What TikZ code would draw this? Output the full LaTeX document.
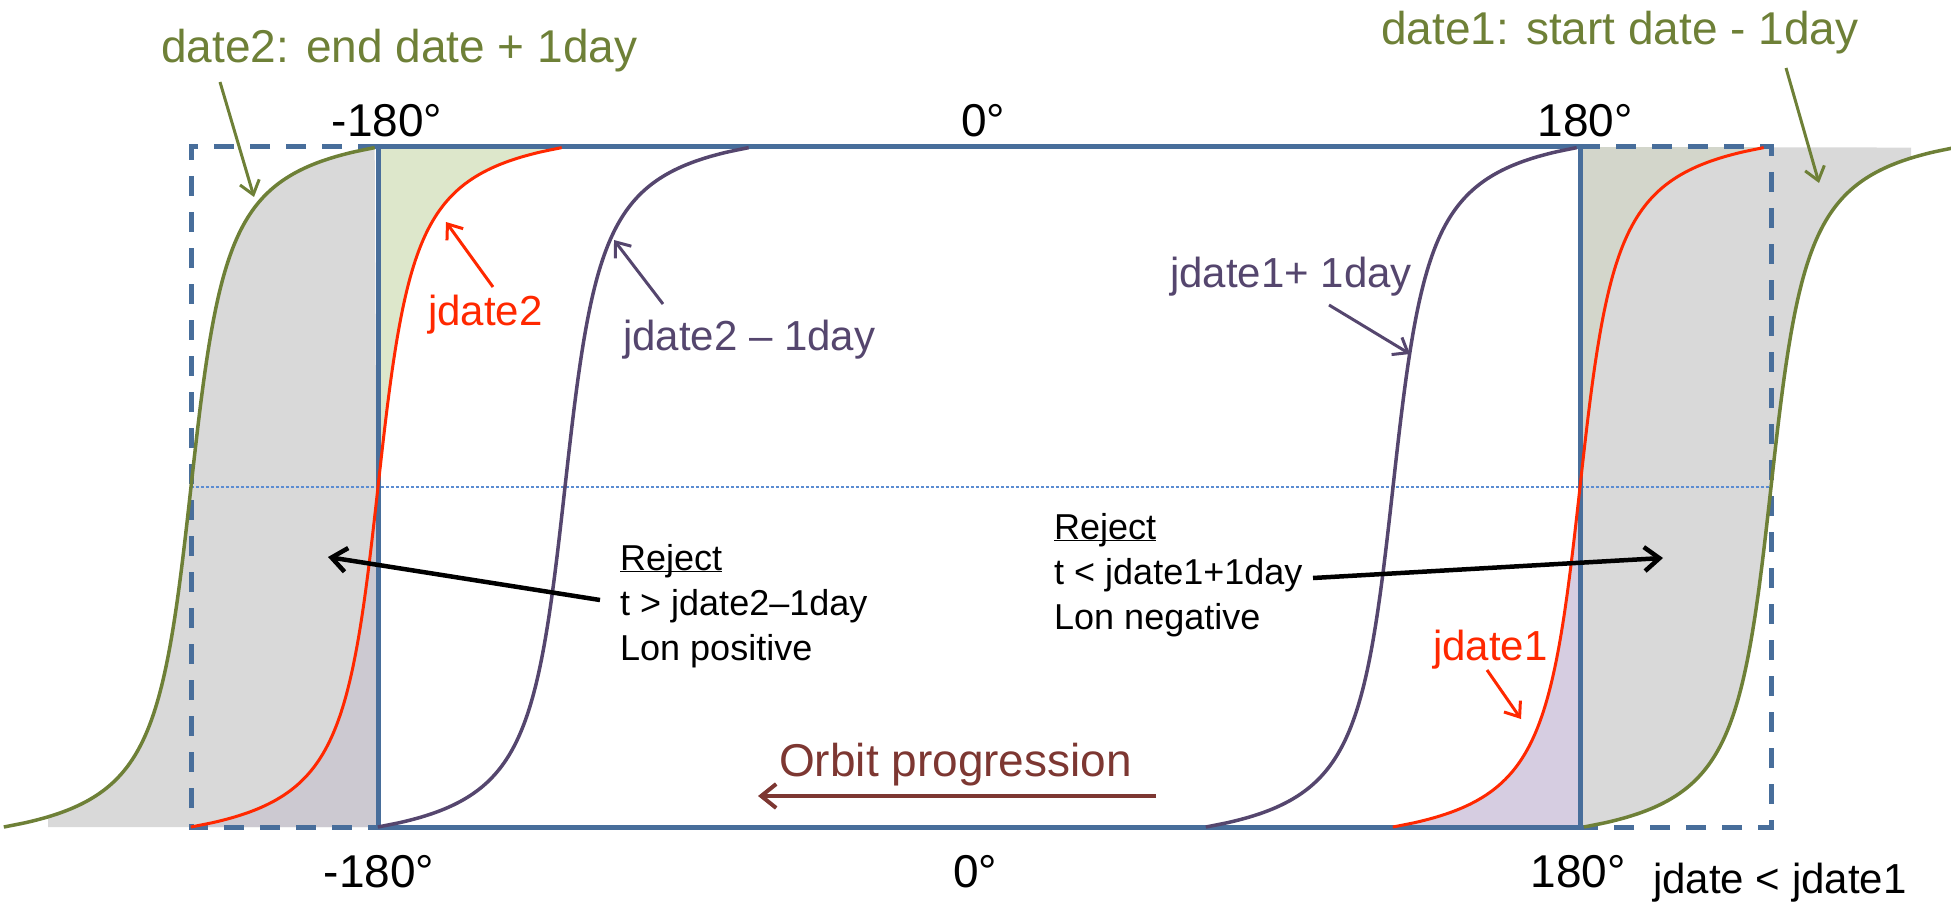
\documentclass[tikz,border=0pt]{standalone}
\usepackage{fontspec}
\setmainfont{Liberation Sans}
\usetikzlibrary{arrows.meta}

\definecolor{boxcol}{RGB}{72,110,155}
\definecolor{dotcol}{RGB}{91,140,210}
\definecolor{datecol}{RGB}{110,128,55}
\definecolor{jdcol}{RGB}{255,40,0}
\definecolor{shiftcol}{RGB}{85,70,110}
\definecolor{orbitcol}{RGB}{125,55,50}
\definecolor{rejgray}{RGB}{217,217,217}
\definecolor{greentint}{RGB}{221,231,203}
\definecolor{greengray}{RGB}{211,214,203}
\definecolor{lavgray}{RGB}{204,201,209}
\definecolor{lavtint}{RGB}{214,205,225}

\begin{document}
\begin{tikzpicture}[
  x=1pt, y=-1pt,
  declare function={sx(\t)=26.54*tan(81.93*\t);},
  boxline/.style={draw=boxcol, line width=5pt},
  dashline/.style={draw=boxcol, line width=5pt, dash pattern=on 20pt off 16pt},
  dotline/.style={draw=dotcol, line width=2.5pt, dash pattern=on 2.5pt off 2.5pt},
  scurve/.style={line width=3.5pt, line join=round},
  lblbig/.style={font=\fontsize{46}{55}\selectfont, inner sep=0pt},
  lblmid/.style={font=\fontsize{42}{50}\selectfont, inner sep=0pt},
  lblsmall/.style={font=\fontsize{36}{45}\selectfont, inner sep=0pt, align=left},
  callout/.style={-{Straight Barb[length=13pt,width=20pt]}, line width=3pt},
  rejarrow/.style={-{Straight Barb[length=15pt,width=24pt]}, line width=4.5pt}
]
  \useasboundingbox (0,0) rectangle (1951,904);
  \clip (0,0) rectangle (1951,904);

  % shaded zones
  \begin{scope}
    \clip (48,0) rectangle (1911,904);
    \fill[rejgray] plot[domain=-1:1, samples=151, smooth] ({191+sx(\x)},{487-340*\x}) -- (378,827) -- cycle;
    \fill[rejgray] plot[domain=-1:1, samples=151, smooth] ({1771+sx(\x)},{487-340*\x}) -- (1580,147) -- (1580,827) -- cycle;
  \end{scope}
  \fill[greentint] plot[domain=0:1, samples=80, smooth] ({378+sx(\x)},{487-340*\x}) -- (378,147) -- cycle;
  \fill[lavgray] plot[domain=-1:0, samples=80, smooth] ({378+sx(\x)},{487-340*\x}) -- (378,827) -- cycle;
  \fill[greengray] plot[domain=0:1, samples=80, smooth] ({1580+sx(\x)},{487-340*\x}) -- (1580,147) -- cycle;
  \fill[lavtint] plot[domain=-1:0, samples=80, smooth] ({1580+sx(\x)},{487-340*\x}) -- (1580,827) -- cycle;

  % longitude box
  \draw[dotline] (191,487) -- (1771,487);
  \draw[boxline] (378,147) rectangle (1580,827);
  \draw[dashline] (378,147) -- (191,147) -- (191,827) -- (378,827);
  \draw[dashline] (1580,147) -- (1771,147) -- (1771,827) -- (1580,827);

  % date curves
  \draw[scurve, datecol] plot[domain=-1:1, samples=151, smooth] ({191+sx(\x)},{487-340*\x});
  \draw[scurve, jdcol, line width=3pt] plot[domain=-1:1, samples=151, smooth] ({378+sx(\x)},{487-340*\x});
  \draw[scurve, shiftcol] plot[domain=-1:1, samples=151, smooth] ({565+sx(\x)},{487-340*\x});
  \draw[scurve, shiftcol] plot[domain=-1:1, samples=151, smooth] ({1393+sx(\x)},{487-340*\x});
  \draw[scurve, jdcol, line width=3pt] plot[domain=-1:1, samples=151, smooth] ({1580+sx(\x)},{487-340*\x});
  \draw[scurve, datecol] plot[domain=-1:1, samples=151, smooth] ({1771+sx(\x)},{487-340*\x});

  % labels
  \node[lblbig, datecol, anchor=base west] (date2lbl) at (161,63) {date2: end date + 1day};
  \node[lblbig, datecol, anchor=base west] (date1lbl) at (1381,45) {date1: start date - 1day};
  \node[lblbig, anchor=base] (topW) at (387,137) {-180°};
  \node[lblbig, anchor=base] (topC) at (983,137) {0°};
  \node[lblbig, anchor=base] (topE) at (1585,137) {180°};
  \node[lblbig, anchor=base] (botW) at (379,887) {-180°};
  \node[lblbig, anchor=base] (botC) at (975,887) {0°};
  \node[lblbig, anchor=base] (botE) at (1578,887) {180°};
  \node[lblmid, anchor=base west] (cond) at (1653,893) {jdate < jdate1};
  \node[lblmid, jdcol, anchor=base west] (jd2) at (428,325) {jdate2};
  \node[lblmid, shiftcol, anchor=base west] (jd2m) at (623,350) {jdate2 – 1day};
  \node[lblmid, shiftcol, anchor=base west] (jd1p) at (1170,287) {jdate1+ 1day};
  \node[lblmid, jdcol, anchor=base west] (jd1) at (1433,660) {jdate1};
  \node[lblsmall, anchor=base west] (rejL) at (620,660) {\underline{\smash{Reject}}\\t > jdate2–1day\\Lon positive};
  \node[lblsmall, anchor=base west] (rejR) at (1054,629) {\underline{\smash{Reject}}\\t < jdate1+1day\\Lon negative};
  \node[lblbig, orbitcol, anchor=base west] (orbit) at (779,776) {Orbit progression};

  % arrow targets
  \coordinate (g2tip) at (254,197);
  \coordinate (g1tip) at (1819,183);
  \coordinate (r2tip) at (446,222);
  \coordinate (p2tip) at (614,240);
  \coordinate (p1tip) at (1410,354);
  \coordinate (r1tip) at (1521,719);
  \coordinate (rejLtip) at (328,557);
  \coordinate (rejRtip) at (1663,558);
  \coordinate (orbtip) at (758,796);

  % callouts
  \draw[callout, datecol] ([shift={(59,19)}]date2lbl.base west) -- (g2tip);
  \draw[callout, datecol] ([shift={(405,23)}]date1lbl.base west) -- (g1tip);
  \draw[callout, jdcol] ([shift={(65,-38)}]jd2.base west) -- (r2tip);
  \draw[callout, shiftcol] ([shift={(40,-46)}]jd2m.base west) -- (p2tip);
  \draw[callout, shiftcol] ([shift={(159,18)}]jd1p.base west) -- (p1tip);
  \draw[callout, jdcol] ([shift={(54,10)}]jd1.base west) -- (r1tip);
  \draw[rejarrow] ([shift={(-20,-60)}]rejL.base west) -- (rejLtip);
  \draw[rejarrow] ([shift={(259,-51)}]rejR.base west) -- (rejRtip);
  \draw[rejarrow, orbitcol, line width=4pt] ([shift={(377,20)}]orbit.base west) -- (orbtip);
\end{tikzpicture}
\end{document}
